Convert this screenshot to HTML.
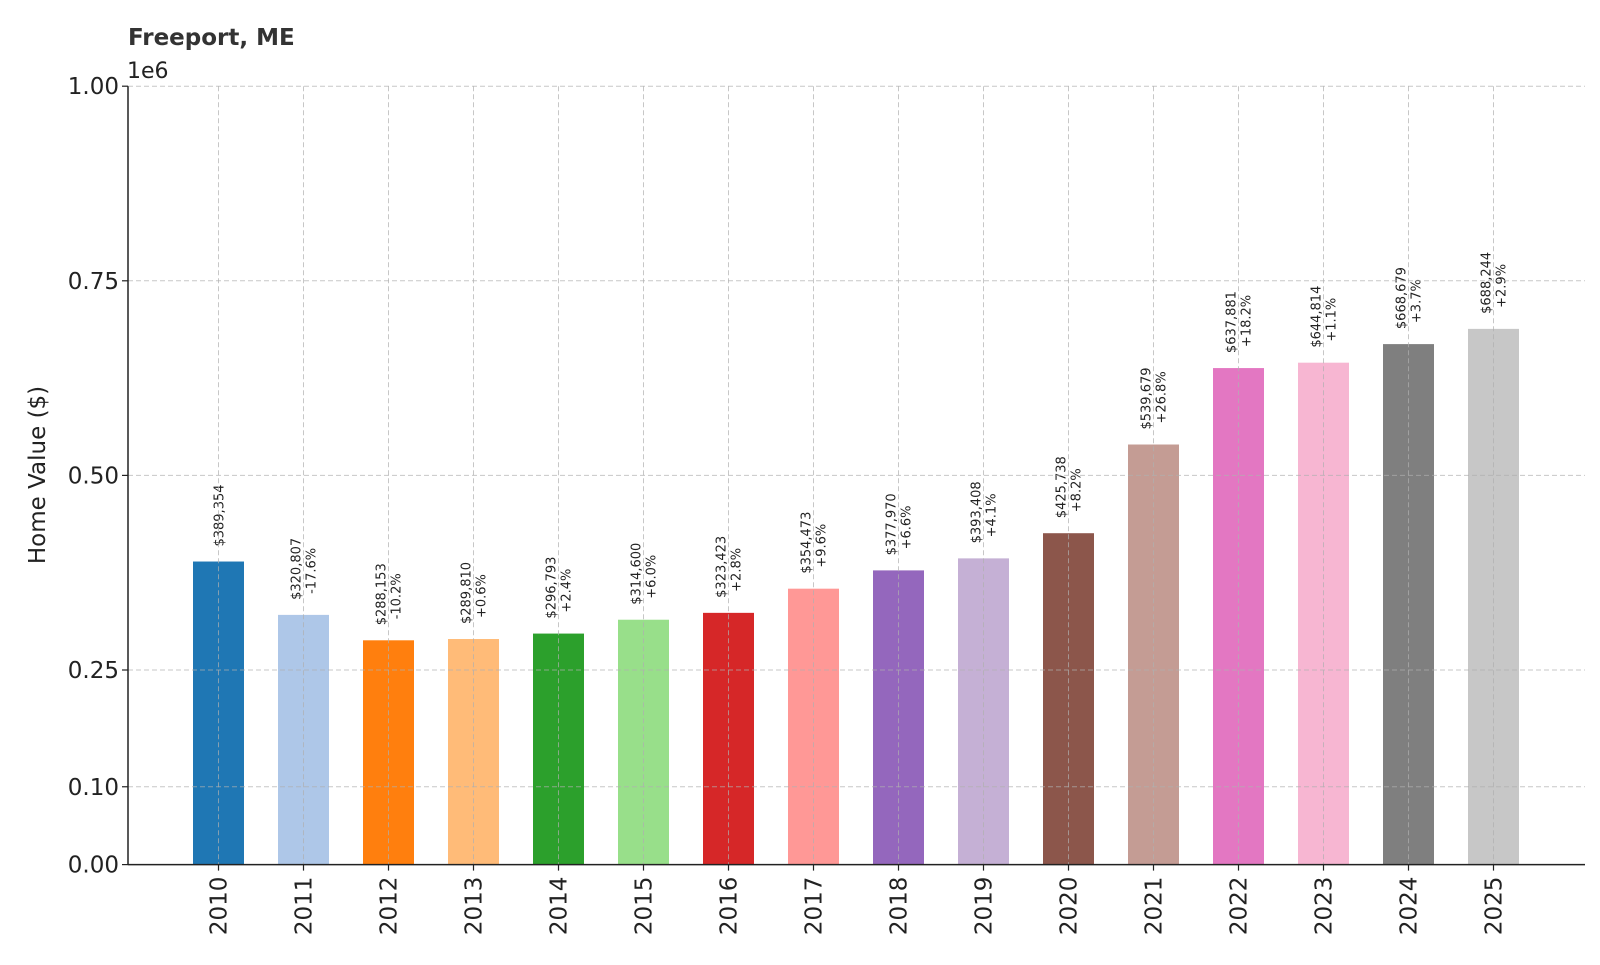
<!DOCTYPE html>
<html><head><meta charset="utf-8"><style>
body{margin:0;background:#fff}
svg{font-family:"DejaVu Sans","Liberation Sans",sans-serif}
</style></head><body>
<svg id="chart" width="1600" height="960" viewBox="0 0 1600 960" xmlns="http://www.w3.org/2000/svg">
<rect width="1600" height="960" fill="#fff"/>
<text x="128" y="45" font-size="23" font-weight="bold" fill="#333">Freeport, ME</text>
<text x="127" y="78" font-size="22" fill="#222">1e6</text>
<text transform="translate(45,475) rotate(-90)" text-anchor="middle" font-size="23" fill="#222">Home Value ($)</text>
<g id="g"></g>
</svg>
<script>
const categories=["2010","2011","2012","2013","2014","2015","2016","2017","2018","2019","2020","2021","2022","2023","2024","2025"];
const values=[389354,320807,288153,289810,296793,314600,323423,354473,377970,393408,425738,539679,637881,644814,668679,688244];
const pctLabels=["","-17.6%","-10.2%","+0.6%","+2.4%","+6.0%","+2.8%","+9.6%","+6.6%","+4.1%","+8.2%","+26.8%","+18.2%","+1.1%","+3.7%","+2.9%"];
const yTicks=[0,0.1,0.25,0.5,0.75,1.0];
const yTickLabels=["0.00","0.10","0.25","0.50","0.75","1.00"];
const colors=["#1f77b4","#aec7e8","#ff7f0e","#ffbb78","#2ca02c","#98df8a","#d62728","#ff9896","#9467bd","#c5b0d5","#8c564b","#c49c94","#e377c2","#f7b6d2","#7f7f7f","#c7c7c7"];
const NS="http://www.w3.org/2000/svg";
const g=document.getElementById('g');
const x0=128,x1=1585,yBase=864.6,yTop=86.2;
const step=85;
const xc=i=>218.5+step*i;
const ys=v=>yBase-(v/1e6)*(yBase-yTop);
const bw=51;
function mk(t,a,txt){const e=document.createElementNS(NS,t);for(const k in a)e.setAttribute(k,a[k]);if(txt!==undefined)e.textContent=txt;g.appendChild(e);return e;}
values.forEach((v,i)=>{
 const r=mk('rect',{x:xc(i)-bw/2,y:ys(v),width:bw,height:yBase-ys(v),fill:colors[i]});
 
 
 const lbl="$"+v.toLocaleString('en-US');
 const yy=ys(v)-15;
 if(pctLabels[i]){
  const t1=mk('text',{transform:`translate(${xc(i)-3},${yy}) rotate(-90)`,'font-size':13,fill:'#222'},lbl);
  
  
  const t2=mk('text',{transform:`translate(${xc(i)+12},${yy-6}) rotate(-90)`,'font-size':13,fill:'#222'},pctLabels[i]);
  
  
 }else{
  const t1=mk('text',{transform:`translate(${xc(i)+5},${yy}) rotate(-90)`,'font-size':13,fill:'#222'},lbl);
  
  
 }
 const xl=mk('text',{transform:`translate(${xc(i)+8},${yBase+12}) rotate(-90)`,'text-anchor':'end','font-size':23,fill:'#222'},categories[i]);
 
 
 const gl=mk('line',{x1:xc(i),x2:xc(i),y1:yTop,y2:yBase,stroke:'#b0b0b0','stroke-width':1,'stroke-dasharray':'5,3',opacity:0.7});
 
 
 mk('line',{x1:xc(i),x2:xc(i),y1:yBase,y2:yBase+6,stroke:'#222','stroke-width':1.2});
});
yTicks.forEach((t,i)=>{
 const y=ys(t*1e6);
 if(t>0){const gl=mk('line',{x1:x0,x2:x1,y1:y,y2:y,stroke:'#b0b0b0','stroke-width':1,'stroke-dasharray':'5,3',opacity:0.7});
 
 }
 mk('line',{x1:x0-6,x2:x0,y1:y,y2:y,stroke:'#222','stroke-width':1.2});
 const tl=mk('text',{x:x0-9,y:y+8,'text-anchor':'end','font-size':23,fill:'#222'},yTickLabels[i]);
 
 
});
const ya=mk('line',{x1:x0,x2:x0,y1:yTop,y2:yBase,stroke:'#222','stroke-width':1.5});


const xa=mk('line',{x1:x0,x2:x1,y1:yBase,y2:yBase,stroke:'#222','stroke-width':1.5});


</script>
</body></html>
